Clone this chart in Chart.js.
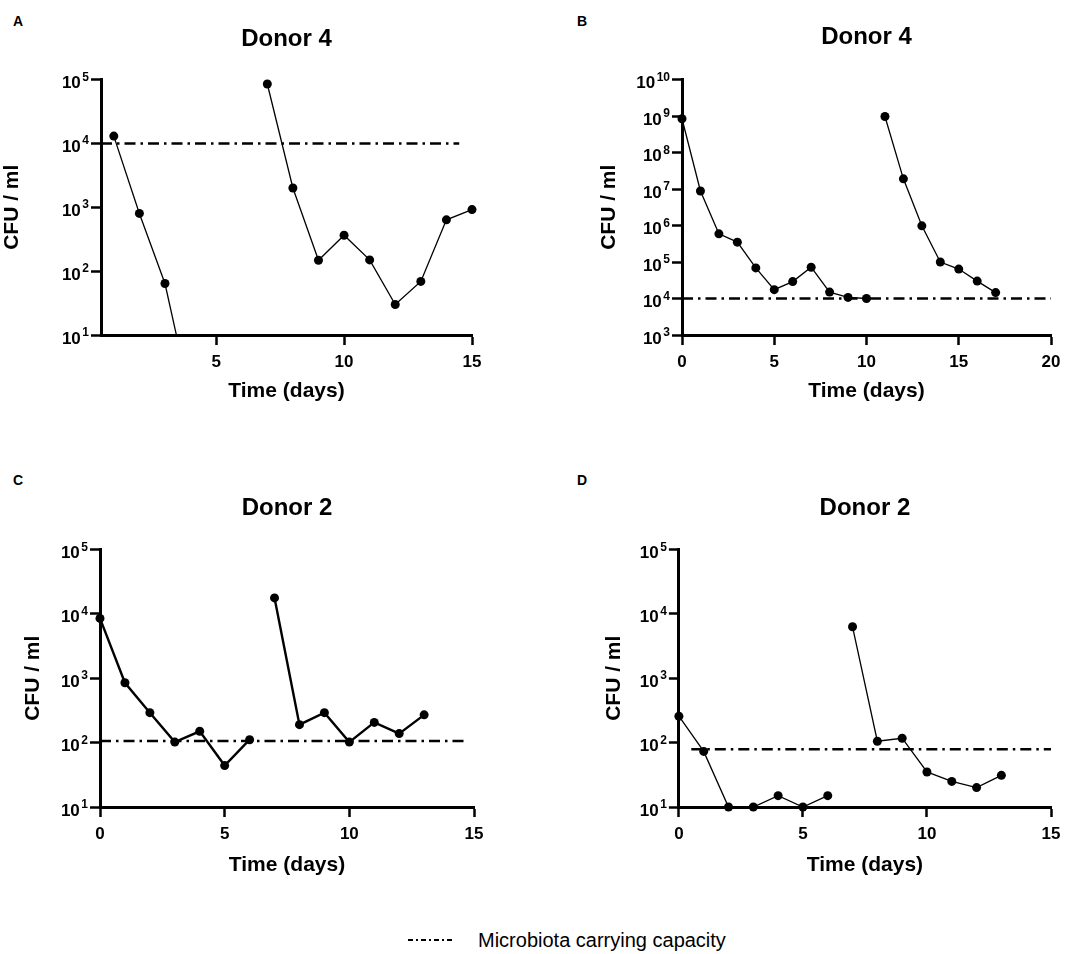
<!DOCTYPE html>
<html>
<head>
<meta charset="utf-8">
<script src="https://cdn.jsdelivr.net/npm/chart.js@4.4.0/dist/chart.umd.min.js"></script>
<style>
  body { margin: 0; background: #fff; width: 1084px; height: 954px; position: relative; overflow: hidden;
         font-family: "Liberation Sans", Arial, sans-serif; }
  canvas.painel { position: absolute; }
  .letra { position: absolute; font-weight: bold; font-size: 14px; line-height: 14px; }
  #legenda { position: absolute; left: 406px; top: 927px; height: 26px; display: flex; align-items: center; }
  #legenda span { font-size: 20px; margin-left: 26px; }
</style>
</head>
<body>
<div class="letra" style="left:13px;top:14px">A</div>
<div class="letra" style="left:577px;top:14px">B</div>
<div class="letra" style="left:13px;top:473px">C</div>
<div class="letra" style="left:577px;top:473px">D</div>

<canvas id="graficoA" class="painel" width="542" height="460" style="left:0;top:0"></canvas>
<canvas id="graficoB" class="painel" width="542" height="460" style="left:542px;top:0"></canvas>
<canvas id="graficoC" class="painel" width="542" height="460" style="left:0;top:460px"></canvas>
<canvas id="graficoD" class="painel" width="542" height="460" style="left:542px;top:460px"></canvas>

<div id="legenda"><canvas id="amostra" width="46" height="10"></canvas><span>Microbiota carrying capacity</span></div>

<script>
// ====== DADOS ======
// A - Donor 4
const diasA1 = [1, 2, 3, 4];
const cfuA1 = [13000, 800, 64, 1];
const diasA2 = [7, 8, 9, 10, 11, 12, 13, 14, 15];
const cfuA2 = [85000, 2000, 148, 365, 150, 30, 69, 635, 920];
const capA = 10000;
const capDiasA = [0.5, 14.5];

// B - Donor 4
const diasB1 = [0, 1, 2, 3, 4, 5, 6, 7, 8, 9, 10];
const cfuB1 = [8.4e8, 8.8e6, 5.9e5, 3.5e5, 6.9e4, 1.75e4, 2.9e4, 7.2e4, 1.5e4, 1.07e4, 1.0e4];
const diasB2 = [11, 12, 13, 14, 15, 16, 17];
const cfuB2 = [9.7e8, 1.9e7, 9.8e5, 1.0e5, 6.4e4, 3.0e4, 1.45e4];
const capB = 10000;
const capDiasB = [0, 20];

// C - Donor 2
const diasC1 = [0, 1, 2, 3, 4, 5, 6];
const cfuC1 = [8500, 850, 292, 102, 150, 44, 111];
const diasC2 = [7, 8, 9, 10, 11, 12, 13];
const cfuC2 = [17700, 190, 292, 102, 206, 138, 270];
const capC = 106;
const capDiasC = [0, 14.7];

// D - Donor 2
const diasD1 = [0, 1, 2, 3, 4, 5, 6];
const cfuD1 = [257, 73, 10, 10, 15, 10, 15];
const diasD2 = [7, 8, 9, 10, 11, 12, 13];
const cfuD2 = [6300, 105, 117, 35, 25, 20, 31];
const capD = 78.6;
const capDiasD = [0.5, 15];

// TICKS
const ticksXA = [5, 10, 15];
const ticksXB = [0, 5, 10, 15, 20];
const ticksX15 = [0, 5, 10, 15];
const ticksY5 = [10, 100, 1000, 10000, 100000];
const ticksY10 = [1e3, 1e4, 1e5, 1e6, 1e7, 1e8, 1e9, 1e10];

const FONTE = '"Liberation Sans", Arial, sans-serif';
const TRACO = [11, 5, 2.5, 5];

function pontos(dias, valores) {
  return dias.map((d, i) => ({ x: d, y: valores[i] }));
}

// ====== TITULO + ROTULOS 10^n ======
const rotulosPotencia = {
  id: "rotulosPotencia",
  afterDraw(chart, args, opts) {
    const y = chart.scales.y;
    const ctx = chart.ctx;
    const area = chart.chartArea;
    const xd = area.left - 12;
    ctx.save();
    ctx.fillStyle = "#000";

    // titulo centrado na area do grafico
    ctx.font = "bold 24px " + FONTE;
    ctx.textAlign = "center";
    ctx.textBaseline = "middle";
    ctx.fillText(opts.texto, (area.left + area.right) / 2, opts.yTitulo);

    ctx.textAlign = "right";
    ctx.textBaseline = "alphabetic";
    y.ticks.forEach((t) => {
      const py = y.getPixelForValue(t.value);
      const exp = String(Math.round(Math.log10(t.value)));
      ctx.font = "bold 12px " + FONTE;
      const ws = ctx.measureText(exp).width;
      ctx.fillText(exp, xd, py + 1);
      ctx.font = "bold 17px " + FONTE;
      ctx.fillText("10", xd - ws - 1.5, py + 8.5);
    });
    ctx.restore();
  }
};

// ====== PAINEL ======
function criarPainel(id, p) {
  const ctx = document.getElementById(id).getContext("2d");
  const linha = (dias, vals, recorte) => ({
    data: pontos(dias, vals),
    borderColor: "#000",
    backgroundColor: "#000",
    borderWidth: p.espessura,
    pointRadius: 4.5,
    pointHoverRadius: 4.5,
    pointBorderWidth: 0,
    tension: 0,
    clip: recorte
  });

  return new Chart(ctx, {
    type: "line",
    data: {
      datasets: [
        linha(p.dias1, p.cfu1, p.recorte1),
        linha(p.dias2, p.cfu2, false),
        {
          data: pontos(p.capDias, [p.cap, p.cap]),
          borderColor: "#000",
          borderWidth: 2.5,
          borderDash: TRACO,
          pointRadius: 0,
          clip: false
        }
      ]
    },
    plugins: [rotulosPotencia],
    options: {
      responsive: false,
      animation: false,
      events: [],
      layout: { padding: { left: p.padEsq, right: p.padDir, top: p.topo, bottom: 0 } },
      plugins: {
        legend: { display: false },
        tooltip: { enabled: false },
        title: { display: false },
        rotulosPotencia: { texto: p.titulo, yTitulo: p.yTitulo }
      },
      scales: {
        x: {
          type: "linear",
          min: p.xMin,
          max: p.xMax,
          afterBuildTicks: (s) => { s.ticks = p.ticksX.map((v) => ({ value: v })); },
          afterFit: (s) => { s.height = p.xAlt; s.paddingLeft = 0; s.paddingRight = 0; },
          ticks: { color: "#000", padding: 7, maxRotation: 0, font: { family: FONTE, size: 17, weight: "bold" } },
          grid: { drawOnChartArea: false, drawTicks: true, tickLength: 10, tickWidth: 2.5, tickColor: "#000" },
          border: { display: true, color: "#000", width: 3 },
          title: {
            display: true,
            text: "Time (days)",
            color: "#000",
            font: { family: FONTE, size: 21, weight: "bold" },
            padding: { top: 0, bottom: p.xTitBase }
          }
        },
        y: {
          type: "logarithmic",
          min: p.yMin,
          max: p.yMax,
          afterBuildTicks: (s) => { s.ticks = p.ticksY.map((v) => ({ value: v })); },
          afterFit: (s) => { s.width = p.yLarg; s.paddingTop = 0; s.paddingBottom = 0; },
          ticks: { display: false },
          grid: { drawOnChartArea: false, drawTicks: true, tickLength: 10, tickWidth: 2.5, tickColor: "#000" },
          border: { display: true, color: "#000", width: 3 },
          title: {
            display: true,
            text: "CFU / ml",
            color: "#000",
            font: { family: FONTE, size: 21, weight: "bold" },
            padding: { top: 0, bottom: 0 }
          }
        }
      }
    }
  });
}

// ====== GRAFICOS ======
criarPainel("graficoA", {
  titulo: "Donor 4", dias1: diasA1, cfu1: cfuA1, dias2: diasA2, cfu2: cfuA2,
  cap: capA, capDias: capDiasA, xMin: 0.5, xMax: 15, ticksX: ticksXA,
  yMin: 10, yMax: 1e5, ticksY: ticksY5, espessura: 1.3,
  recorte1: { left: 10, top: 10, right: 10, bottom: 0 },
  padEsq: 0, padDir: 70, yLarg: 101, topo: 79.5, yTitulo: 39, xAlt: 125, xTitBase: 56
});

criarPainel("graficoB", {
  titulo: "Donor 4", dias1: diasB1, cfu1: cfuB1, dias2: diasB2, cfu2: cfuB2,
  cap: capB, capDias: capDiasB, xMin: 0, xMax: 20, ticksX: ticksXB,
  yMin: 1e3, yMax: 1e10, ticksY: ticksY10, espessura: 1.3, recorte1: false,
  padEsq: 55, padDir: 33, yLarg: 85, topo: 79.5, yTitulo: 37, xAlt: 125, xTitBase: 56
});

criarPainel("graficoC", {
  titulo: "Donor 2", dias1: diasC1, cfu1: cfuC1, dias2: diasC2, cfu2: cfuC2,
  cap: capC, capDias: capDiasC, xMin: 0, xMax: 15, ticksX: ticksX15,
  yMin: 10, yMax: 1e5, ticksY: ticksY5, espessura: 2.4, recorte1: false,
  padEsq: 20.4, padDir: 68, yLarg: 79.6, topo: 89.5, yTitulo: 48, xAlt: 113, xTitBase: 42.4
});

criarPainel("graficoD", {
  titulo: "Donor 2", dias1: diasD1, cfu1: cfuD1, dias2: diasD2, cfu2: cfuD2,
  cap: capD, capDias: capDiasD, xMin: 0, xMax: 15, ticksX: ticksX15,
  yMin: 10, yMax: 1e5, ticksY: ticksY5, espessura: 1.3, recorte1: false,
  padEsq: 59.9, padDir: 33, yLarg: 77, topo: 89.5, yTitulo: 48, xAlt: 113, xTitBase: 42.4
});

// ====== LEGENDA ======
const amostra = document.getElementById("amostra").getContext("2d");
amostra.strokeStyle = "#000";
amostra.lineWidth = 2;
amostra.setLineDash([5, 3, 2, 3]);
amostra.beginPath();
amostra.moveTo(2, 5);
amostra.lineTo(46, 5);
amostra.stroke();
</script>
</body>
</html>
